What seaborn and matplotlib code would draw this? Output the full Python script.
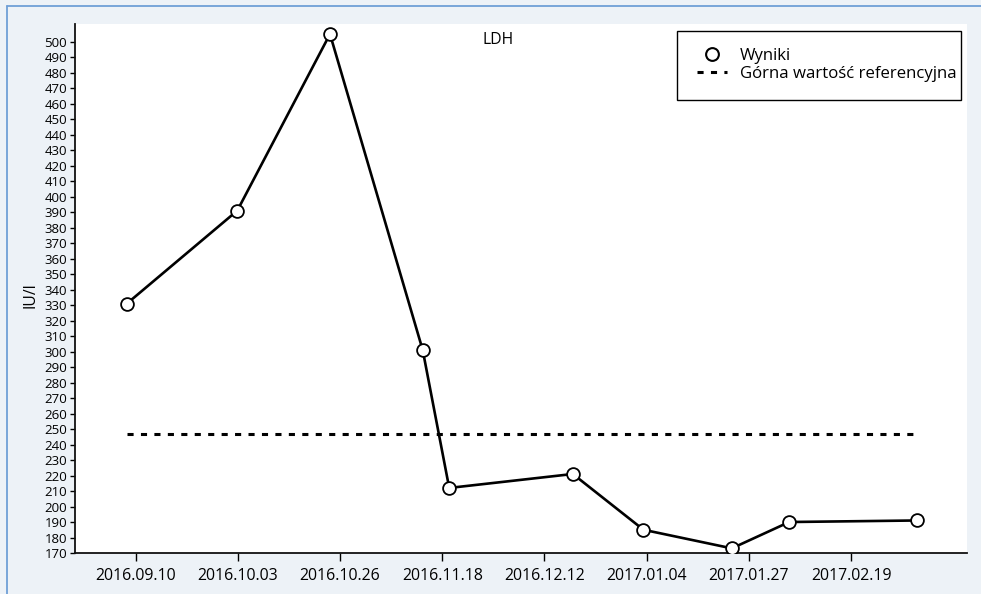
import matplotlib
matplotlib.use("Agg")
import matplotlib.pyplot as plt
import matplotlib.lines as mlines
import matplotlib.patches as mpatches
import seaborn as sns
import pandas as pd
import numpy as np

# ---- data ----
dates = ["2016-09-08", "2016-10-03", "2016-10-24", "2016-11-14", "2016-11-20",
         "2016-12-18", "2017-01-03", "2017-01-23", "2017-02-05", "2017-03-06"]
values = [331, 391, 505, 301, 212, 221, 185, 173, 190, 191]
ref_value = 247
tick_labels = ["2016.09.10", "2016.10.03", "2016.10.26", "2016.11.18",
               "2016.12.12", "2017.01.04", "2017.01.27", "2017.02.19"]
title = "LDH"
ylabel = "IU/l"
series_label = "Wyniki"
ref_label = "Górna wartość referencyjna"

sns.set_style("white")
plt.rcParams['font.family'] = ['Open Sans', 'DejaVu Sans']
plt.rcParams['text.color'] = 'black'

bg = "#edf2f7"
fig = plt.figure(figsize=(9.81, 5.94), dpi=100, facecolor=bg)
ax = fig.add_axes([75/981, 1-553/594, (967-75)/981, (553-24)/594])
ax.set_facecolor("white")

df = pd.DataFrame({"date": pd.to_datetime(dates), "value": values})

sns.lineplot(data=df, x="date", y="value", ax=ax, color="black", linewidth=1.9,
             marker="o", markersize=9.2, markerfacecolor="white",
             markeredgecolor="black", markeredgewidth=1.3, zorder=3)

ref_df = pd.DataFrame({"date": [df["date"].iloc[0], df["date"].iloc[-1]],
                       "value": [ref_value, ref_value]})
sns.lineplot(data=ref_df, x="date", y="value", ax=ax, color="black",
             linewidth=2.2, linestyle=(0, (2, 2.4)), zorder=2)

# ticks: evenly spaced between first and last label
t0 = pd.Timestamp(tick_labels[0].replace(".", "-"))
t1 = pd.Timestamp(tick_labels[-1].replace(".", "-"))
ticks = [t0 + (t1 - t0) * k / (len(tick_labels) - 1) for k in range(len(tick_labels))]
ax.set_xticks(ticks)
ax.set_xticklabels(tick_labels)
per_px = (t1 - t0) / (851 - 135.7)
ax.set_xlim(t0 - per_px * (135.7 - 75), t0 + per_px * (967 - 135.7))

ax.set_yticks(np.arange(170, 501, 10))
ax.set_ylim(170, 511.5)

ax.tick_params(axis="y", labelsize=9.5, length=3.6, width=1.0, pad=2,
               direction="out", left=True, colors="black")
ax.tick_params(axis="x", labelsize=11.4, length=5.8, width=1.0, pad=5,
               direction="out", bottom=True, colors="black")
for s in ["top", "right"]:
    ax.spines[s].set_visible(False)
for s in ["left", "bottom"]:
    ax.spines[s].set_color("#111111")
    ax.spines[s].set_linewidth(1.3)

ax.set_xlabel("")
ax.set_ylabel("")
fig.text(30/981, 1-295/594, ylabel, rotation=90, ha="center", va="center",
         fontsize=11.3, color="black")
fig.text(498/981, 1-40/594, title, ha="center", va="center", fontsize=11.3,
         color="black")

# legend frame drawn separately (below legend contents)
ax.add_patch(mpatches.Rectangle((677/981, 1-100/594), (961-677)/981, 69/594,
                                transform=fig.transFigure, facecolor="white",
                                edgecolor="black", linewidth=1.0, zorder=4,
                                clip_on=False))
h1 = mlines.Line2D([], [], color="black", linestyle="none", marker="o",
                   markersize=9.2, markerfacecolor="white", markeredgewidth=1.5)
h2 = mlines.Line2D([], [], color="black", linewidth=2.2, linestyle=(0, (2, 2.4)))
leg = ax.legend([h1, h2], [series_label, ref_label], loc="upper right",
                bbox_to_anchor=(960/981, 1-45/594), bbox_transform=fig.transFigure,
                fontsize=12.1, frameon=False, handlelength=1.8, handletextpad=0.75,
                borderpad=0.2, labelspacing=0.1, borderaxespad=0)
leg.set_zorder(5)
for t in leg.get_texts():
    t.set_color("black")

# blue frame lines (top and left)
border = "#6f9fd6"
fig.add_artist(mlines.Line2D([7/981, 1], [1-6/594, 1-6/594], color=border,
                             linewidth=1.3, transform=fig.transFigure))
fig.add_artist(mlines.Line2D([7/981, 7/981], [0, 1-6/594], color=border,
                             linewidth=1.3, transform=fig.transFigure))

fig.savefig("out.png", dpi=100, facecolor=bg)
